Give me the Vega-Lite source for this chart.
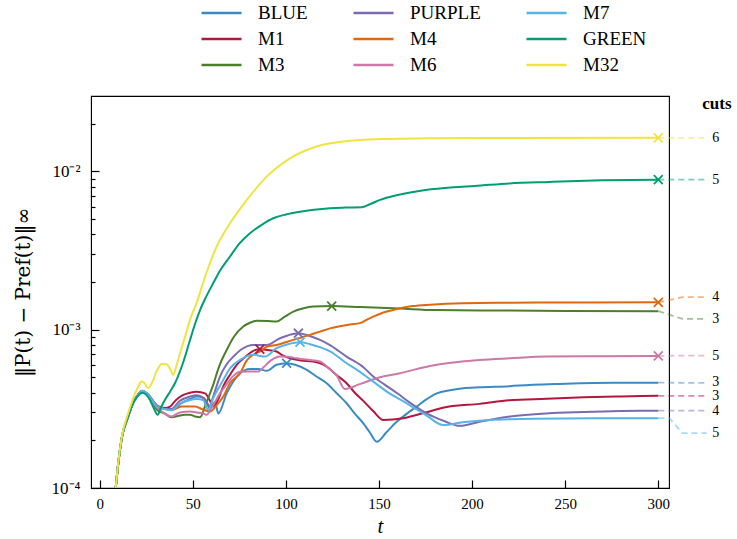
{
  "$schema": "https://vega.github.io/schema/vega-lite/v6.json",
  "width": 578,
  "height": 392,
  "autosize": {"type": "none"},
  "padding": {"left": 91, "top": 96, "right": 68, "bottom": 51},
  "background": "white",
  "config": {
    "view": {"stroke": "black", "strokeWidth": 1.1},
    "font": "Liberation Serif",
    "text": {"font": "Liberation Serif"}
  },
  "datasets": {
    "curves": [
      {"s":"BLUE","t":8.6,"v":0.0001},{"s":"BLUE","t":10,"v":0.000144},{"s":"BLUE","t":12,"v":0.000211},{"s":"BLUE","t":15,"v":0.000277},{"s":"BLUE","t":18,"v":0.000345},{"s":"BLUE","t":20,"v":0.00038},{"s":"BLUE","t":23,"v":0.000412},{"s":"BLUE","t":27,"v":0.00038},{"s":"BLUE","t":31,"v":0.000325},{"s":"BLUE","t":35,"v":0.00032},{"s":"BLUE","t":39.5,"v":0.000313},{"s":"BLUE","t":44,"v":0.000345},{"s":"BLUE","t":48.5,"v":0.000365},{"s":"BLUE","t":52,"v":0.000378},{"s":"BLUE","t":56,"v":0.00037},{"s":"BLUE","t":59.3,"v":0.000317},{"s":"BLUE","t":61.9,"v":0.00035},{"s":"BLUE","t":63.7,"v":0.000296},{"s":"BLUE","t":68.2,"v":0.000396},{"s":"BLUE","t":75.4,"v":0.000531},{"s":"BLUE","t":80.7,"v":0.000565},{"s":"BLUE","t":85.2,"v":0.000565},{"s":"BLUE","t":89.7,"v":0.00055},{"s":"BLUE","t":95,"v":0.0006},{"s":"BLUE","t":100.4,"v":0.000614},{"s":"BLUE","t":105,"v":0.0006},{"s":"BLUE","t":111.2,"v":0.000557},{"s":"BLUE","t":116,"v":0.00051},{"s":"BLUE","t":121.9,"v":0.000459},{"s":"BLUE","t":127,"v":0.0004},{"s":"BLUE","t":132.6,"v":0.000343},{"s":"BLUE","t":137,"v":0.000295},{"s":"BLUE","t":141.6,"v":0.000256},{"s":"BLUE","t":145,"v":0.000225},{"s":"BLUE","t":148.8,"v":0.000196},{"s":"BLUE","t":154,"v":0.000225},{"s":"BLUE","t":159.5,"v":0.000262},{"s":"BLUE","t":165,"v":0.000295},{"s":"BLUE","t":170.2,"v":0.000327},{"s":"BLUE","t":175,"v":0.00036},{"s":"BLUE","t":181,"v":0.000396},{"s":"BLUE","t":188,"v":0.000415},{"s":"BLUE","t":195.3,"v":0.000427},{"s":"BLUE","t":204,"v":0.000433},{"s":"BLUE","t":220,"v":0.00044},{"s":"BLUE","t":231,"v":0.000448},{"s":"BLUE","t":245,"v":0.000454},{"s":"BLUE","t":258,"v":0.000459},{"s":"BLUE","t":280,"v":0.000462},{"s":"BLUE","t":300,"v":0.000463},

      {"s":"M1","t":8.6,"v":0.0001},{"s":"M1","t":10,"v":0.000144},{"s":"M1","t":12,"v":0.000211},{"s":"M1","t":15,"v":0.000277},{"s":"M1","t":18,"v":0.000345},{"s":"M1","t":20,"v":0.00038},{"s":"M1","t":23,"v":0.00041},{"s":"M1","t":27,"v":0.000375},{"s":"M1","t":31,"v":0.00033},{"s":"M1","t":35,"v":0.00032},{"s":"M1","t":37.8,"v":0.000327},{"s":"M1","t":41,"v":0.00036},{"s":"M1","t":44.9,"v":0.000387},{"s":"M1","t":48.5,"v":0.0004},{"s":"M1","t":52.1,"v":0.000406},{"s":"M1","t":56.6,"v":0.000396},{"s":"M1","t":59,"v":0.00036},{"s":"M1","t":61,"v":0.000327},{"s":"M1","t":63.5,"v":0.00036},{"s":"M1","t":66.4,"v":0.00044},{"s":"M1","t":70,"v":0.00052},{"s":"M1","t":73.6,"v":0.0006},{"s":"M1","t":78,"v":0.00067},{"s":"M1","t":82,"v":0.00073},{"s":"M1","t":86,"v":0.000753},{"s":"M1","t":90,"v":0.000745},{"s":"M1","t":95,"v":0.000728},{"s":"M1","t":98,"v":0.00069},{"s":"M1","t":102.2,"v":0.00066},{"s":"M1","t":108,"v":0.00064},{"s":"M1","t":114.7,"v":0.000629},{"s":"M1","t":118,"v":0.000615},{"s":"M1","t":121.9,"v":0.000585},{"s":"M1","t":127,"v":0.00052},{"s":"M1","t":132.6,"v":0.000459},{"s":"M1","t":137,"v":0.0004},{"s":"M1","t":141.6,"v":0.000355},{"s":"M1","t":147,"v":0.000305},{"s":"M1","t":152.3,"v":0.000269},{"s":"M1","t":163,"v":0.000276},{"s":"M1","t":175,"v":0.0003},{"s":"M1","t":186.4,"v":0.000325},{"s":"M1","t":204,"v":0.00034},{"s":"M1","t":220,"v":0.000358},{"s":"M1","t":240,"v":0.000366},{"s":"M1","t":260,"v":0.000374},{"s":"M1","t":280,"v":0.000379},{"s":"M1","t":300,"v":0.000382},

      {"s":"M3","t":8.6,"v":0.0001},{"s":"M3","t":10,"v":0.000144},{"s":"M3","t":12,"v":0.000211},{"s":"M3","t":15,"v":0.000277},{"s":"M3","t":18,"v":0.000345},{"s":"M3","t":20,"v":0.00038},{"s":"M3","t":23,"v":0.00041},{"s":"M3","t":27,"v":0.00037},{"s":"M3","t":31,"v":0.00031},{"s":"M3","t":35,"v":0.000295},{"s":"M3","t":38.5,"v":0.00028},{"s":"M3","t":42,"v":0.000285},{"s":"M3","t":45.8,"v":0.00029},{"s":"M3","t":48.5,"v":0.00029},{"s":"M3","t":51.2,"v":0.000283},{"s":"M3","t":53.9,"v":0.00028},{"s":"M3","t":57,"v":0.00034},{"s":"M3","t":61,"v":0.00045},{"s":"M3","t":64,"v":0.00058},{"s":"M3","t":68.2,"v":0.000745},{"s":"M3","t":72,"v":0.0009},{"s":"M3","t":77.1,"v":0.001047},{"s":"M3","t":81,"v":0.00111},{"s":"M3","t":84.3,"v":0.00114},{"s":"M3","t":90,"v":0.001135},{"s":"M3","t":95,"v":0.001125},{"s":"M3","t":99,"v":0.0012},{"s":"M3","t":104,"v":0.0013},{"s":"M3","t":109,"v":0.00136},{"s":"M3","t":114.7,"v":0.0014},{"s":"M3","t":124.6,"v":0.00141},{"s":"M3","t":140,"v":0.00139},{"s":"M3","t":161.3,"v":0.00136},{"s":"M3","t":180,"v":0.00133},{"s":"M3","t":220,"v":0.00132},{"s":"M3","t":300,"v":0.00131},

      {"s":"PURPLE","t":8.6,"v":0.0001},{"s":"PURPLE","t":10,"v":0.000144},{"s":"PURPLE","t":12,"v":0.000211},{"s":"PURPLE","t":15,"v":0.000277},{"s":"PURPLE","t":18,"v":0.000345},{"s":"PURPLE","t":20,"v":0.00038},{"s":"PURPLE","t":23,"v":0.00041},{"s":"PURPLE","t":27,"v":0.000375},{"s":"PURPLE","t":31,"v":0.00033},{"s":"PURPLE","t":35,"v":0.000315},{"s":"PURPLE","t":38.5,"v":0.000315},{"s":"PURPLE","t":43,"v":0.000355},{"s":"PURPLE","t":48.5,"v":0.000378},{"s":"PURPLE","t":52,"v":0.000385},{"s":"PURPLE","t":55,"v":0.000375},{"s":"PURPLE","t":57.4,"v":0.00035},{"s":"PURPLE","t":59,"v":0.00033},{"s":"PURPLE","t":61,"v":0.00038},{"s":"PURPLE","t":64.6,"v":0.000506},{"s":"PURPLE","t":68,"v":0.0006},{"s":"PURPLE","t":71.8,"v":0.000676},{"s":"PURPLE","t":76,"v":0.00075},{"s":"PURPLE","t":82.5,"v":0.000801},{"s":"PURPLE","t":89.7,"v":0.000801},{"s":"PURPLE","t":96.8,"v":0.000883},{"s":"PURPLE","t":101,"v":0.00092},{"s":"PURPLE","t":106.7,"v":0.00095},{"s":"PURPLE","t":112,"v":0.00092},{"s":"PURPLE","t":118.3,"v":0.000863},{"s":"PURPLE","t":123.7,"v":0.0008},{"s":"PURPLE","t":132.6,"v":0.000676},{"s":"PURPLE","t":141.6,"v":0.00058},{"s":"PURPLE","t":146.9,"v":0.000506},{"s":"PURPLE","t":153,"v":0.00045},{"s":"PURPLE","t":160,"v":0.000395},{"s":"PURPLE","t":166,"v":0.00035},{"s":"PURPLE","t":175.6,"v":0.000296},{"s":"PURPLE","t":185,"v":0.000265},{"s":"PURPLE","t":193.5,"v":0.000247},{"s":"PURPLE","t":204,"v":0.000262},{"s":"PURPLE","t":220.4,"v":0.000283},{"s":"PURPLE","t":240,"v":0.000296},{"s":"PURPLE","t":260,"v":0.000302},{"s":"PURPLE","t":280,"v":0.000306},{"s":"PURPLE","t":300,"v":0.000308},

      {"s":"M4","t":8.6,"v":0.0001},{"s":"M4","t":10,"v":0.000144},{"s":"M4","t":12,"v":0.000211},{"s":"M4","t":15,"v":0.000277},{"s":"M4","t":18,"v":0.000345},{"s":"M4","t":20,"v":0.00038},{"s":"M4","t":23,"v":0.00041},{"s":"M4","t":27,"v":0.00037},{"s":"M4","t":31,"v":0.000325},{"s":"M4","t":33.3,"v":0.000319},{"s":"M4","t":38.5,"v":0.000311},{"s":"M4","t":44,"v":0.000327},{"s":"M4","t":51.2,"v":0.000327},{"s":"M4","t":55,"v":0.000315},{"s":"M4","t":59.3,"v":0.000304},{"s":"M4","t":62.5,"v":0.00033},{"s":"M4","t":66.4,"v":0.000378},{"s":"M4","t":70,"v":0.00046},{"s":"M4","t":75.4,"v":0.000531},{"s":"M4","t":79,"v":0.00064},{"s":"M4","t":82,"v":0.00069},{"s":"M4","t":86.1,"v":0.00073},{"s":"M4","t":89.7,"v":0.00078},{"s":"M4","t":95,"v":0.000801},{"s":"M4","t":104,"v":0.000863},{"s":"M4","t":113,"v":0.000927},{"s":"M4","t":118.3,"v":0.000973},{"s":"M4","t":123.7,"v":0.00102},{"s":"M4","t":134.4,"v":0.00108},{"s":"M4","t":139.8,"v":0.0011},{"s":"M4","t":143,"v":0.00115},{"s":"M4","t":146.9,"v":0.00121},{"s":"M4","t":152,"v":0.00128},{"s":"M4","t":159.5,"v":0.00135},{"s":"M4","t":168,"v":0.00141},{"s":"M4","t":177.4,"v":0.00144},{"s":"M4","t":195,"v":0.00147},{"s":"M4","t":220.4,"v":0.00148},{"s":"M4","t":260,"v":0.001488},{"s":"M4","t":300,"v":0.00149},

      {"s":"M6","t":8.6,"v":0.0001},{"s":"M6","t":10,"v":0.000144},{"s":"M6","t":12,"v":0.000211},{"s":"M6","t":15,"v":0.000277},{"s":"M6","t":18,"v":0.000345},{"s":"M6","t":20,"v":0.00038},{"s":"M6","t":23,"v":0.00041},{"s":"M6","t":27,"v":0.00037},{"s":"M6","t":31,"v":0.00032},{"s":"M6","t":35,"v":0.000295},{"s":"M6","t":38.5,"v":0.000283},{"s":"M6","t":43.1,"v":0.0003},{"s":"M6","t":48.5,"v":0.000304},{"s":"M6","t":52,"v":0.0003},{"s":"M6","t":55.6,"v":0.000296},{"s":"M6","t":57.4,"v":0.00029},{"s":"M6","t":60,"v":0.00032},{"s":"M6","t":64.6,"v":0.000396},{"s":"M6","t":68,"v":0.00045},{"s":"M6","t":71,"v":0.0005},{"s":"M6","t":75.4,"v":0.000543},{"s":"M6","t":80,"v":0.000545},{"s":"M6","t":85.2,"v":0.000545},{"s":"M6","t":88,"v":0.00058},{"s":"M6","t":92,"v":0.00064},{"s":"M6","t":96.8,"v":0.000676},{"s":"M6","t":101,"v":0.000675},{"s":"M6","t":105.8,"v":0.00066},{"s":"M6","t":112,"v":0.000645},{"s":"M6","t":118.3,"v":0.000629},{"s":"M6","t":123.7,"v":0.00056},{"s":"M6","t":127,"v":0.00052},{"s":"M6","t":131.7,"v":0.000422},{"s":"M6","t":140,"v":0.000455},{"s":"M6","t":150.5,"v":0.000501},{"s":"M6","t":161.3,"v":0.000531},{"s":"M6","t":177.4,"v":0.00059},{"s":"M6","t":204,"v":0.000644},{"s":"M6","t":220.4,"v":0.00066},{"s":"M6","t":240,"v":0.000676},{"s":"M6","t":270,"v":0.00068},{"s":"M6","t":300,"v":0.000683},

      {"s":"M7","t":8.6,"v":0.0001},{"s":"M7","t":10,"v":0.000144},{"s":"M7","t":12,"v":0.000211},{"s":"M7","t":15,"v":0.000277},{"s":"M7","t":18,"v":0.000345},{"s":"M7","t":20,"v":0.00038},{"s":"M7","t":23,"v":0.00041},{"s":"M7","t":27,"v":0.000375},{"s":"M7","t":31,"v":0.000325},{"s":"M7","t":35,"v":0.000315},{"s":"M7","t":38.5,"v":0.00031},{"s":"M7","t":43,"v":0.00034},{"s":"M7","t":48.5,"v":0.00036},{"s":"M7","t":52,"v":0.000365},{"s":"M7","t":55.5,"v":0.00036},{"s":"M7","t":58.3,"v":0.000311},{"s":"M7","t":61,"v":0.00037},{"s":"M7","t":66.4,"v":0.000482},{"s":"M7","t":70,"v":0.00057},{"s":"M7","t":75.4,"v":0.000644},{"s":"M7","t":82.5,"v":0.000694},{"s":"M7","t":88.8,"v":0.000676},{"s":"M7","t":95,"v":0.000764},{"s":"M7","t":101,"v":0.00081},{"s":"M7","t":107.6,"v":0.000834},{"s":"M7","t":113,"v":0.00081},{"s":"M7","t":118.3,"v":0.000776},{"s":"M7","t":123.7,"v":0.00073},{"s":"M7","t":132.6,"v":0.000614},{"s":"M7","t":139,"v":0.00055},{"s":"M7","t":146.9,"v":0.00047},{"s":"M7","t":155,"v":0.0004},{"s":"M7","t":164.9,"v":0.000343},{"s":"M7","t":175,"v":0.00029},{"s":"M7","t":184.5,"v":0.00025},{"s":"M7","t":195,"v":0.00026},{"s":"M7","t":204,"v":0.000266},{"s":"M7","t":220.4,"v":0.000272},{"s":"M7","t":250,"v":0.000275},{"s":"M7","t":300,"v":0.000276},

      {"s":"GREEN","t":8.6,"v":0.0001},{"s":"GREEN","t":10,"v":0.000144},{"s":"GREEN","t":12,"v":0.000211},{"s":"GREEN","t":15,"v":0.000277},{"s":"GREEN","t":18,"v":0.000345},{"s":"GREEN","t":20,"v":0.000375},{"s":"GREEN","t":23,"v":0.0004},{"s":"GREEN","t":27,"v":0.00036},{"s":"GREEN","t":29,"v":0.00032},{"s":"GREEN","t":31.1,"v":0.00029},{"s":"GREEN","t":33,"v":0.000325},{"s":"GREEN","t":35,"v":0.00036},{"s":"GREEN","t":38,"v":0.00041},{"s":"GREEN","t":40.4,"v":0.000459},{"s":"GREEN","t":45,"v":0.00063},{"s":"GREEN","t":48.5,"v":0.00086},{"s":"GREEN","t":51,"v":0.00107},{"s":"GREEN","t":53.9,"v":0.00133},{"s":"GREEN","t":57,"v":0.0016},{"s":"GREEN","t":61,"v":0.00197},{"s":"GREEN","t":65,"v":0.0024},{"s":"GREEN","t":70,"v":0.0029},{"s":"GREEN","t":75,"v":0.0035},{"s":"GREEN","t":80.7,"v":0.00407},{"s":"GREEN","t":87,"v":0.0046},{"s":"GREEN","t":93.2,"v":0.00506},{"s":"GREEN","t":100,"v":0.00535},{"s":"GREEN","t":107.6,"v":0.00557},{"s":"GREEN","t":115,"v":0.00573},{"s":"GREEN","t":123.7,"v":0.00586},{"s":"GREEN","t":132,"v":0.00591},{"s":"GREEN","t":140.7,"v":0.00594},{"s":"GREEN","t":145,"v":0.0062},{"s":"GREEN","t":150.5,"v":0.00661},{"s":"GREEN","t":160,"v":0.0071},{"s":"GREEN","t":175,"v":0.00764},{"s":"GREEN","t":190,"v":0.00795},{"s":"GREEN","t":201.5,"v":0.0081},{"s":"GREEN","t":220,"v":0.0084},{"s":"GREEN","t":241.5,"v":0.00858},{"s":"GREEN","t":270,"v":0.00878},{"s":"GREEN","t":300,"v":0.00887},

      {"s":"M32","t":8.6,"v":0.0001},{"s":"M32","t":10,"v":0.000146},{"s":"M32","t":12,"v":0.000215},{"s":"M32","t":15,"v":0.00029},{"s":"M32","t":18,"v":0.00037},{"s":"M32","t":20,"v":0.00042},{"s":"M32","t":22.5,"v":0.00047},{"s":"M32","t":24,"v":0.00046},{"s":"M32","t":26,"v":0.000427},{"s":"M32","t":28,"v":0.00046},{"s":"M32","t":31,"v":0.00056},{"s":"M32","t":33.3,"v":0.000608},{"s":"M32","t":36,"v":0.000605},{"s":"M32","t":38,"v":0.00056},{"s":"M32","t":39.5,"v":0.000518},{"s":"M32","t":41,"v":0.00058},{"s":"M32","t":43,"v":0.0007},{"s":"M32","t":45.8,"v":0.0009},{"s":"M32","t":49,"v":0.0012},{"s":"M32","t":52,"v":0.00147},{"s":"M32","t":56.6,"v":0.00216},{"s":"M32","t":62.8,"v":0.00335},{"s":"M32","t":70,"v":0.00471},{"s":"M32","t":79,"v":0.0066},{"s":"M32","t":89.7,"v":0.00927},{"s":"M32","t":102.2,"v":0.0121},{"s":"M32","t":116.5,"v":0.01436},{"s":"M32","t":134.4,"v":0.0156},{"s":"M32","t":155.9,"v":0.01604},{"s":"M32","t":180,"v":0.0162},{"s":"M32","t":220,"v":0.01628},{"s":"M32","t":300,"v":0.0163}
    ],
    "xs": [
      {"s":"BLUE","t":100.4,"v":0.000614},{"s":"M1","t":86,"v":0.000753},{"s":"M3","t":124.6,"v":0.00141},{"s":"PURPLE","t":106.7,"v":0.00095},{"s":"M4","t":300,"v":0.00149},{"s":"M6","t":300,"v":0.000683},{"s":"M7","t":107.6,"v":0.000834},{"s":"GREEN","t":300,"v":0.00887},{"s":"M32","t":300,"v":0.0163}
    ],
    "conn": [
      {"s":"BLUE","t":300,"v":0.000463},{"s":"BLUE","t":313,"v":0.000462},{"s":"BLUE","t":326,"v":0.000462},
      {"s":"M1","t":300,"v":0.000382},{"s":"M1","t":313,"v":0.000382},{"s":"M1","t":326,"v":0.000382},
      {"s":"M3","t":300,"v":0.00131},{"s":"M3","t":313,"v":0.00117},{"s":"M3","t":326,"v":0.00117},
      {"s":"PURPLE","t":300,"v":0.000308},{"s":"PURPLE","t":313,"v":0.000308},{"s":"PURPLE","t":326,"v":0.000308},
      {"s":"M4","t":300,"v":0.00149},{"s":"M4","t":313,"v":0.001604},{"s":"M4","t":326,"v":0.001604},
      {"s":"M6","t":300,"v":0.000683},{"s":"M6","t":313,"v":0.000686},{"s":"M6","t":326,"v":0.000686},
      {"s":"M7","t":300,"v":0.000276},{"s":"M7","t":306,"v":0.000276},{"s":"M7","t":313,"v":0.000222},{"s":"M7","t":326,"v":0.000222},
      {"s":"GREEN","t":300,"v":0.00887},{"s":"GREEN","t":313,"v":0.00887},{"s":"GREEN","t":326,"v":0.00887},
      {"s":"M32","t":300,"v":0.0163},{"s":"M32","t":313,"v":0.0163},{"s":"M32","t":326,"v":0.0163}
    ],
    "cuts": [
      {"s":"M32","t":329,"v":0.0163,"n":"6"},{"s":"GREEN","t":329,"v":0.00887,"n":"5"},{"s":"M4","t":329,"v":0.001604,"n":"4"},{"s":"M3","t":329,"v":0.00117,"n":"3"},{"s":"M6","t":329,"v":0.000686,"n":"5"},{"s":"BLUE","t":329,"v":0.00047,"n":"3"},{"s":"M1","t":329,"v":0.000382,"n":"3"},{"s":"PURPLE","t":329,"v":0.000305,"n":"4"},{"s":"M7","t":329,"v":0.000222,"n":"5"}
    ],
    "head": [{"t":331.5,"v":0.0267,"label":"cuts"}]
  },
  "layer": [
    {
      "data": {"name": "curves"},
      "mark": {"type": "line", "strokeWidth": 2, "interpolate": "monotone"},
      "encoding": {
        "x": {"field": "t", "type": "quantitative", "scale": {"domain": [-4.67, 305.75], "nice": false, "zero": false},
              "axis": {"orient": "bottom", "values": [0,50,100,150,200,250,300], "grid": true, "gridOpacity": 0, "domain": true, "domainColor": "black", "domainWidth": 1, "tickSize": -8, "tickColor": "black", "tickWidth": 1.2, "labelPadding": 16, "labelFont": "Liberation Serif", "labelColor": "black", "labelFontSize": 15, "title": "t", "titleFont": "Liberation Serif", "titleFontWeight": "normal", "titleColor": "black", "titleFontStyle": "italic", "titleFontSize": 21, "titlePadding": 4}},
        "y": {"field": "v", "type": "quantitative", "scale": {"type": "log", "domain": [0.0001, 0.02995], "nice": false},
              "axis": {"orient": "left", "values": [0.0001,0.0002,0.0003,0.0004,0.0005,0.0006,0.0007,0.0008,0.0009,0.001,0.002,0.003,0.004,0.005,0.006,0.007,0.008,0.009,0.01,0.02], "grid": true, "gridOpacity": 0, "domain": true, "domainColor": "black", "domainWidth": 1,
                       "tickSize": {"condition": {"test": "datum.value == 0.0001 || datum.value == 0.001 || datum.value == 0.01", "value": -8}, "value": -4},
                       "tickColor": "black", "tickWidth": 1.2,
                       "labelExpr": "datum.value == 0.0001 ? '10⁻⁴' : datum.value == 0.001 ? '10⁻³' : datum.value == 0.01 ? '10⁻²' : ''",
                       "labelPadding": 19, "labelFont": "Liberation Serif", "labelColor": "black", "labelFontSize": 17, "title": "‖P(t) − Pref(t)‖∞", "titleFont": "DejaVu Serif", "titleFontWeight": "normal", "titleColor": "black", "titleFontSize": 20, "titlePadding": 18}},
        "color": {"field": "s", "type": "nominal",
                  "scale": {"domain": ["BLUE","M1","M3","PURPLE","M4","M6","M7","GREEN","M32"], "range": ["#3B8BC2","#B2183F","#4C7F2A","#7D6BB0","#E0680F","#CC79A7","#56B4E9","#009E73","#F0E442"]},
                  "legend": {"orient": "none", "legendX": 109, "legendY": -93, "title": null, "columns": 3, "columnPadding": 44, "rowPadding": 6, "clipHeight": 20, "padding": 0,
                             "symbolType": "stroke", "symbolSize": 1600, "symbolStrokeWidth": 2.5, "labelOffset": 15, "labelFont": "Liberation Serif", "labelFontSize": 19, "labelColor": "black", "labelLimit": 200}}
      }
    },
    {
      "data": {"name": "xs"},
      "mark": {"type": "point", "shape": "M-1,-1L1,1M-1,1L1,-1", "filled": false, "size": 80, "strokeWidth": 1.8, "opacity": 1},
      "encoding": {
        "x": {"field": "t", "type": "quantitative"},
        "y": {"field": "v", "type": "quantitative"},
        "color": {"field": "s", "type": "nominal"}
      }
    },
    {
      "data": {"name": "conn"},
      "mark": {"type": "line", "strokeWidth": 1.8, "strokeDash": [6, 4], "opacity": 0.5, "clip": false},
      "encoding": {
        "x": {"field": "t", "type": "quantitative"},
        "y": {"field": "v", "type": "quantitative"},
        "color": {"field": "s", "type": "nominal"}
      }
    },
    {
      "data": {"name": "cuts"},
      "mark": {"type": "text", "align": "left", "baseline": "middle", "fontSize": 14, "color": "black", "clip": false, "font": "Liberation Serif"},
      "encoding": {
        "x": {"field": "t", "type": "quantitative"},
        "y": {"field": "v", "type": "quantitative"},
        "text": {"field": "n"}
      }
    },
    {
      "data": {"name": "head"},
      "mark": {"type": "text", "align": "center", "baseline": "middle", "fontSize": 17, "fontWeight": "bold", "color": "black", "clip": false, "font": "Liberation Serif"},
      "encoding": {
        "x": {"field": "t", "type": "quantitative"},
        "y": {"field": "v", "type": "quantitative"},
        "text": {"field": "label"}
      }
    }
  ]
}
